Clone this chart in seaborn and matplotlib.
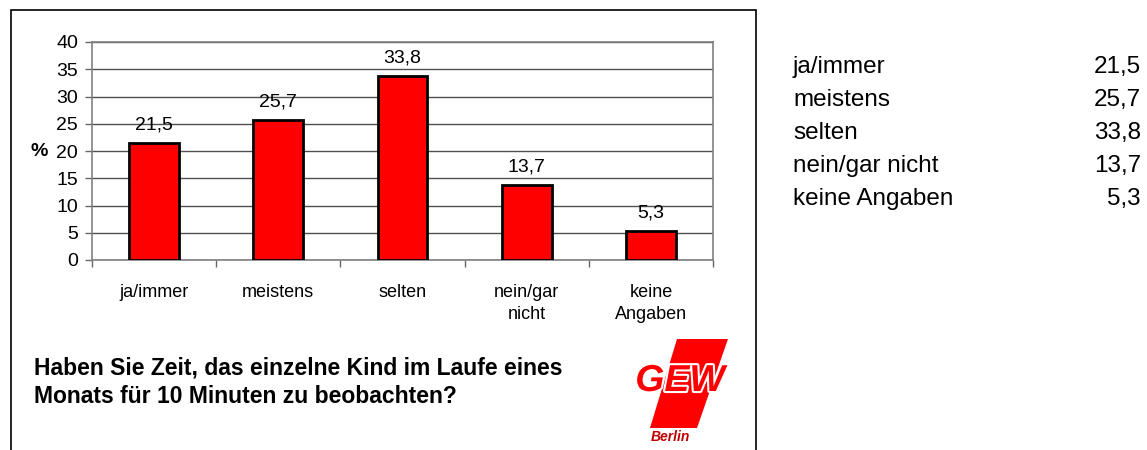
import numpy as np
import pandas as pd
import matplotlib
matplotlib.use("Agg")
import matplotlib.pyplot as plt
import matplotlib.patheffects as pe
from matplotlib.patches import Rectangle, Polygon
import seaborn as sns

# Daten
kategorien = ["ja/immer", "meistens", "selten", "nein/gar\nnicht", "keine\nAngaben"]
tabellen_namen = ["ja/immer", "meistens", "selten", "nein/gar nicht", "keine Angaben"]
werte = [21.5, 25.7, 33.8, 13.7, 5.3]
y_ticks = [0, 5, 10, 15, 20, 25, 30, 35, 40]
titel = "Haben Sie Zeit, das einzelne Kind im Laufe eines\nMonats für 10 Minuten zu beobachten?"

sns.set_style("white")
plt.rcParams['font.family'] = ['Liberation Sans', 'DejaVu Sans']
plt.rcParams['text.color'] = 'black'
plt.rcParams['xtick.color'] = 'black'
plt.rcParams['ytick.color'] = 'black'
plt.rcParams['axes.labelcolor'] = 'black'

W, H = 1147, 450
fig = plt.figure(figsize=(W / 100, H / 100), dpi=100)

def fx(x):
    return x / W

def fy(y):
    return 1 - y / H

# Rahmen um das Diagramm
fig.patches.append(Rectangle((fx(11), -0.1), fx(756) - fx(11), fy(10) + 0.1,
                             transform=fig.transFigure, fill=False,
                             edgecolor='black', lw=1.2, zorder=0))

ax = fig.add_axes([fx(92), fy(260), fx(713) - fx(92), fy(42) - fy(260)])
df = pd.DataFrame({'kategorie': kategorien, 'wert': werte})
sns.barplot(data=df, x='kategorie', y='wert', color='#ff0000', saturation=1,
            edgecolor='black', linewidth=2, width=0.4, ax=ax, zorder=3)

ax.set_ylim(0, 40)
ax.set_xlim(-0.5, 4.5)
ax.set_yticks(y_ticks)
ax.yaxis.grid(True, color='#505050', lw=1, zorder=0)
ax.set_axisbelow(True)
for s in ax.spines.values():
    s.set_color('#808080')
    s.set_linewidth(1.2)

ax.tick_params(axis='y', left=True, length=5, width=1, color='#666666',
               labelsize=14, pad=5)
ax.set_xticks(range(len(kategorien)))
ax.set_xticklabels(kategorien, fontsize=13, linespacing=1.45)
ax.tick_params(axis='x', which='major', length=0, pad=17)
ax.set_xticks(np.arange(-0.5, len(kategorien), 1), minor=True)
ax.tick_params(axis='x', which='minor', bottom=True, length=5, width=1, color='#666666')

ax.set_xlabel('')
ax.set_ylabel('%', rotation=0, fontweight='bold', fontsize=14, labelpad=12, va='center')

etiketten = [f"{v:.1f}".replace('.', ',') for v in werte]
ax.bar_label(ax.containers[0], labels=etiketten, padding=7, fontsize=14)

# Titel unten links
fig.text(fx(34), fy(382), titel, fontsize=16.5, fontweight='bold',
         ha='left', va='center', linespacing=1.3)

# Logo (vereinfacht)
fig.patches.append(Polygon([[fx(677), fy(339)], [fx(728), fy(339)],
                            [fx(697), fy(428)], [fx(650), fy(428)]],
                           closed=True, transform=fig.transFigure,
                           facecolor='#ff0000', edgecolor='none'))
fig.text(fx(680), fy(381), "GEW", fontsize=27, fontweight='bold', style='italic',
         color='#ff0000', ha='center', va='center',
         path_effects=[pe.withStroke(linewidth=3, foreground='white')])
fig.text(fx(670), fy(437), "Berlin", fontsize=10, fontweight='bold', style='italic',
         color='#c00000', ha='center', va='center')

# Tabelle rechts
for i, (name, v) in enumerate(zip(tabellen_namen, werte)):
    y = 67 + 33 * i
    fig.text(fx(793), fy(y), name, fontsize=17.5, ha='left', va='center')
    fig.text(fx(1141), fy(y), f"{v:.1f}".replace('.', ','), fontsize=17.5,
             ha='right', va='center')

fig.savefig('out.png', dpi=100)
